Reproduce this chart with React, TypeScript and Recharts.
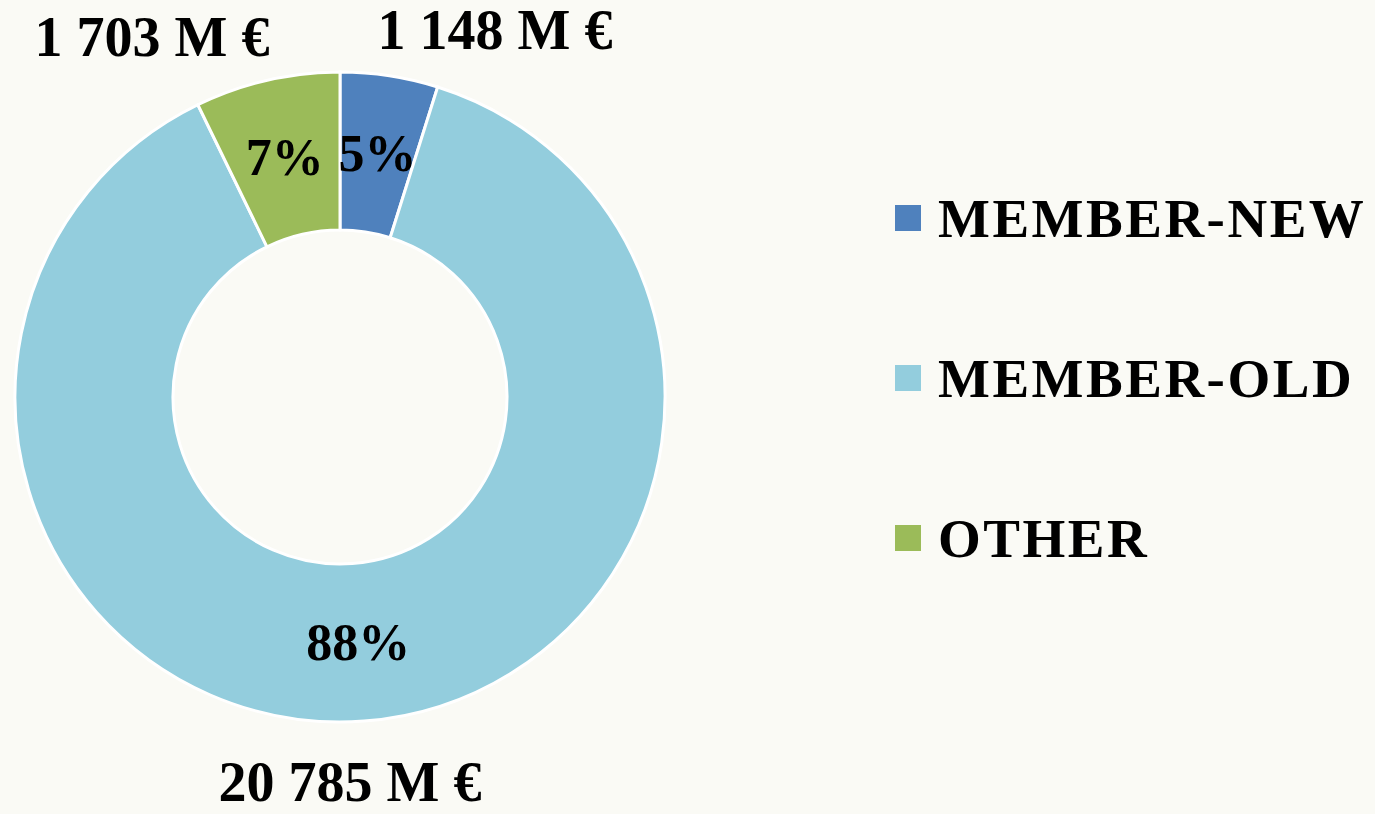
import React from 'react';
import { PieChart, Pie, Cell, Legend } from 'recharts';

// categories and values (M €)
const categories = ['MEMBER-NEW', 'MEMBER-OLD', 'OTHER'];
const amounts = [1148, 20785, 1703];
const amountLabels = ['1 148 M €', '20 785 M €', '1 703 M €'];

const COLORS = ['#4F81BD', '#93CDDD', '#9BBB59'];
const BG = '#FAFAF5';
const FONT = '"Liberation Serif", "Times New Roman", serif';

// where Excel put the value callouts, relative to the pie centre
const CALLOUT_OFFSET: Record<string, [number, number]> = {
  'MEMBER-NEW': [155, -367],
  'MEMBER-OLD': [10, 385],
  'OTHER': [-188, -360],
};

const data = categories.map((name, i) => ({ name, value: amounts[i], label: amountLabels[i] }));

const RADIAN = Math.PI / 180;

const renderLabel = (props: any) => {
  const { cx, cy, midAngle, innerRadius, outerRadius, percent, name, payload } = props;
  const r = (innerRadius + outerRadius) / 2;
  const x = cx + r * Math.cos(-midAngle * RADIAN);
  const y = cy + r * Math.sin(-midAngle * RADIAN);
  const off = CALLOUT_OFFSET[name] || [0, 0];
  const text = payload?.label ?? payload?.payload?.label;
  return (
    <g>
      <text x={x} y={y} textAnchor="middle" dominantBaseline="central"
        fontFamily={FONT} fontWeight="bold" fontSize={52} fill="#000">
        {`${Math.round(percent * 100)}%`}
      </text>
      <text x={cx + off[0]} y={cy + off[1]} textAnchor="middle" dominantBaseline="central"
        fontFamily={FONT} fontWeight="bold" fontSize={56} fill="#000">
        {text}
      </text>
    </g>
  );
};

const LegendContent = () => (
  <div>
    {categories.map((name, i) => (
      <div key={name} style={{ height: 160, display: 'flex', alignItems: 'center' }}>
        <div style={{ width: 26, height: 26, background: COLORS[i], marginRight: 17 }} />
        <span style={{ fontFamily: FONT, fontWeight: 'bold', fontSize: 55, letterSpacing: 2.5, color: '#000', lineHeight: 1 }}>
          {name}
        </span>
      </div>
    ))}
  </div>
);

export default function App() {
  return (
    <div style={{ position: 'absolute', left: 0, top: 0, width: 1375, height: 814, background: BG, overflow: 'hidden' }}>
      <PieChart width={1375} height={814} margin={{ top: 0, right: 0, bottom: 0, left: 0 }}>
        <Pie
          data={data}
          dataKey="value"
          nameKey="name"
          cx={340}
          cy={397}
          innerRadius={167}
          outerRadius={325}
          startAngle={90}
          endAngle={-270}
          stroke="#FFFFFF"
          strokeWidth={3}
          label={renderLabel}
          labelLine={false}
          isAnimationActive={false}
        >
          {data.map((d, i) => (
            <Cell key={d.name} fill={COLORS[i]} />
          ))}
        </Pie>
        <Legend
          layout="vertical"
          align="right"
          verticalAlign="top"
          content={<LegendContent />}
          wrapperStyle={{ left: 895, top: 138, width: 480 }}
        />
      </PieChart>
    </div>
  );
}
